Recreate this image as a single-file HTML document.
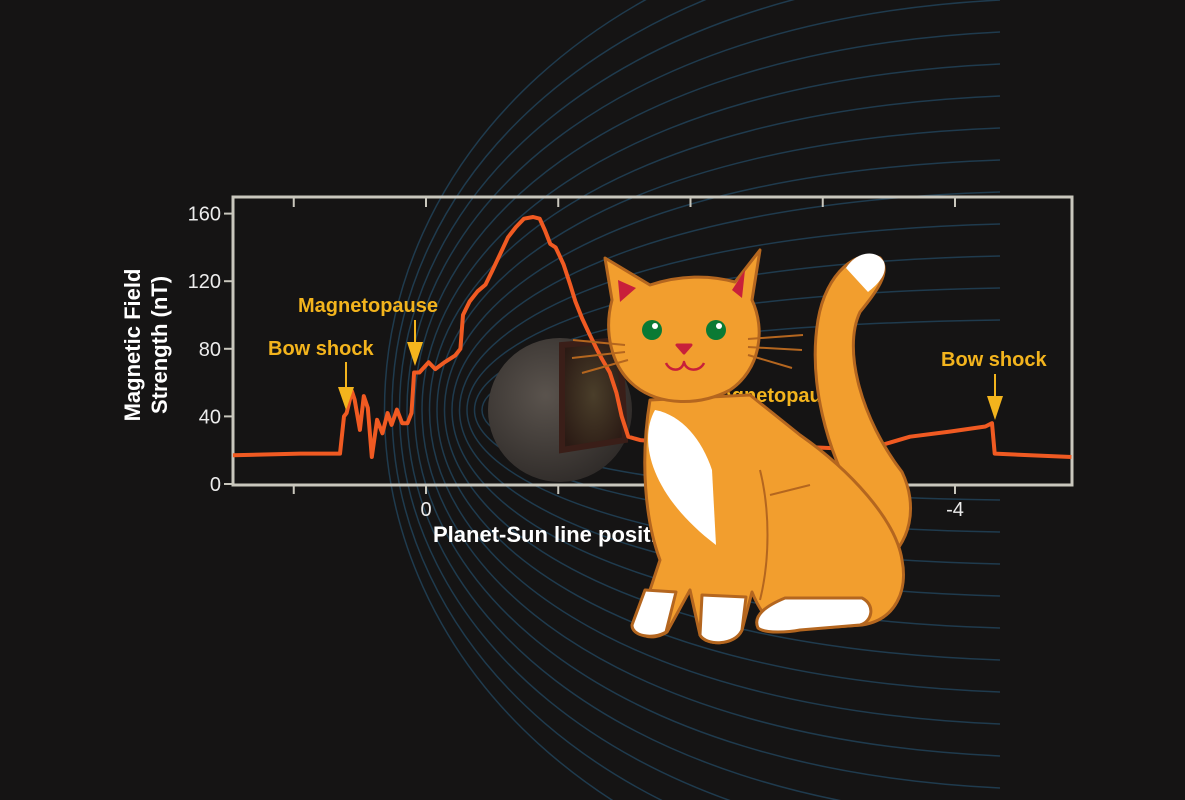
<!DOCTYPE html>
<html><head><meta charset="utf-8">
<style>
html,body{margin:0;padding:0;background:#151414;overflow:hidden;}
svg{display:block;}
text{font-family:"Liberation Sans",sans-serif;}
</style></head>
<body>
<svg id="chart" width="1185" height="800" viewBox="0 0 1185 800">
<defs>
<radialGradient id="pg" cx="0.4" cy="0.4" r="0.7">
<stop offset="0" stop-color="#5a534d"/><stop offset="1" stop-color="#2c2826"/>
</radialGradient>
<radialGradient id="cg" cx="0.5" cy="0.5" r="0.6">
<stop offset="0" stop-color="#4a3e2a"/><stop offset="1" stop-color="#2a1a14"/>
</radialGradient>
<clipPath id="frameclip"><rect width="1185" height="800"/></clipPath>
</defs>
<rect width="1185" height="800" fill="#151414"/>
<g id="field" fill="none" stroke="#1f3b4e" stroke-width="1.5" clip-path="url(#frameclip)"></g>
<g>
<circle cx="560" cy="410" r="72" fill="url(#pg)"/>
<path d="M562 345 L620 340 L625 440 L562 450 Z" fill="url(#cg)" stroke="#3a1e18" stroke-width="6"/>
</g>
<rect x="233" y="197" width="839" height="288" fill="none" stroke="#c9c7bd" stroke-width="3"/>
<g id="axes"></g>
<path id="series" fill="none" stroke="#f05a22" stroke-width="4" stroke-linejoin="round"/>
<g id="ann" font-weight="bold" font-size="20" fill="#f3b41d">
<text x="268" y="355">Bow shock</text>
<text x="298" y="312">Magnetopause</text>
<text x="704" y="402">Magnetopause</text>
<text x="941" y="366">Bow shock</text>
<g stroke="#f3b41d" stroke-width="2">
<line x1="346" y1="362" x2="346" y2="392"/><line x1="415" y1="320" x2="415" y2="352"/><line x1="995" y1="374" x2="995" y2="400"/>
</g>
<polygon points="338,387 354,387 346,410"/><polygon points="407,342 423,342 415,366"/><polygon points="987,396 1003,396 995,420"/>
</g>
<g fill="#ffffff" font-weight="bold" font-size="22">
<text transform="translate(140,345) rotate(-90)" text-anchor="middle">Magnetic Field</text>
<text transform="translate(167,345) rotate(-90)" text-anchor="middle">Strength (nT)</text>
<text x="433" y="542">Planet-Sun line position (Mercury radii)</text>
</g>
<g stroke="#b4661f" stroke-width="3" stroke-linejoin="round">
<path d="M858 505 C826 450 808 380 818 320 C826 272 858 248 880 258 C892 272 876 292 860 312 C842 350 862 420 902 472 C918 505 912 545 880 565 Z" fill="#f29e2e"/>
<path d="M846 268 C856 252 876 248 884 262 C888 274 878 284 868 292 Z" fill="#fff" stroke="none"/>
<path d="M650 400 C640 460 645 520 660 560 L640 620 C632 636 652 642 667 632 L690 590 L700 635 C706 646 735 646 742 630 L752 592 C760 612 772 630 792 630 L862 625 C896 620 908 590 902 560 C896 520 850 470 800 435 L750 395 Z" fill="#f29e2e"/>
<path d="M655 410 C638 440 650 495 716 545 L712 470 C702 440 682 415 655 410 Z" fill="#fff" stroke="none"/>
<path d="M645 590 L632 625 C632 636 652 640 666 632 L676 592 Z" fill="#fff"/>
<path d="M702 595 L700 635 C706 646 735 646 742 630 L746 597 Z" fill="#fff"/>
<path d="M785 598 C768 605 752 615 758 628 C765 634 790 632 800 630 L860 625 C872 622 876 605 862 598 Z" fill="#fff"/>
<path d="M612 300 L605 258 L650 285 C680 275 710 275 735 282 L760 250 L752 300 C766 330 760 370 730 390 C700 406 660 406 635 386 C610 366 604 330 612 300 Z" fill="#f29e2e"/>
<path d="M618 280 L620 302 L636 288 Z M745 270 L732 290 L742 298 Z" fill="#c8203a" stroke="none"/>
<circle cx="652" cy="330" r="10" fill="#0a7a34" stroke="none"/><circle cx="716" cy="330" r="10" fill="#0a7a34" stroke="none"/>
<circle cx="655" cy="326" r="3" fill="#fff" stroke="none"/><circle cx="719" cy="326" r="3" fill="#fff" stroke="none"/>
<path d="M677 345 L691 345 L684 353 Z" fill="#c8203a" stroke="#c8203a"/>
<path d="M666 363 C670 372 682 372 684 362 C686 372 700 372 704 363" fill="none" stroke="#c8203a" stroke-width="2.5"/>
<path d="M625 345 L573 340 M625 352 L572 358 M628 360 L582 373 M748 339 L803 335 M748 347 L802 350 M748 355 L792 368" fill="none" stroke-width="2"/>
<path d="M760 470 C770 510 770 560 760 600 M770 495 C790 490 810 485 810 485" fill="none" stroke-width="2"/>
</g>
<script>
const xTicks=[1,0,-1,-2,-3,-4];
const xTickLabels=["","0","","-2","","-4"];
const yTicks=[0,40,80,120,160];
const posR=[1.46,0.95,0.65,0.62,0.60,0.56,0.54,0.50,0.47,0.44,0.41,0.37,0.33,0.29,0.26,0.22,0.18,0.14,0.11,0.09,0.05,-0.02,-0.07,-0.14,-0.22,-0.26,-0.28,-0.33,-0.39,-0.45,-0.50,-0.56,-0.62,-0.68,-0.74,-0.81,-0.86,-0.90,-0.94,-0.98,-1.01,-1.04,-1.09,-1.13,-1.18,-1.24,-1.29,-1.33,-1.39,-1.44,-1.48,-1.53,-1.62,-1.92,-2.37,-2.83,-3.13,-3.28,-3.40,-3.66,-3.96,-4.23,-4.28,-4.30,-4.57,-4.88];
const fieldNT=[17,18,18,40,42,55,50,32,52,45,16,38,30,42,35,44,36,36,42,66,66,72,68,72,76,80,100,108,114,118,126,136,146,152,157,158,157,150,142,140,135,130,118,108,98,88,80,74,66,54,40,28,26,24,23,22,21,16,22,28,31,34,36,18,17,16];
const NS='http://www.w3.org/2000/svg';
const xs=r=>426-r*132.25;
const ys=v=>484-v*1.69;
const axes=document.getElementById('axes');
function mk(tag,attrs,parent){const e=document.createElementNS(NS,tag);for(const k in attrs)e.setAttribute(k,attrs[k]);parent.appendChild(e);return e;}
xTicks.forEach((t,i)=>{
  const x=xs(t);
  const a=mk('line',{x1:x,y1:198,x2:x,y2:207,stroke:'#c9c7bd','stroke-width':2},axes);
  
  
  const b=mk('line',{x1:x,y1:484,x2:x,y2:494,stroke:'#c9c7bd','stroke-width':2},axes);
  
  
  if(xTickLabels[i]){
    const tx=mk('text',{x:x,y:516,'text-anchor':'middle','font-size':20,fill:'#ececec'},axes);
    tx.textContent=xTickLabels[i];
    
    
  }
});
yTicks.forEach(v=>{
  const y=ys(v);
  const l=mk('line',{x1:224,y1:y,x2:234,y2:y,stroke:'#c9c7bd','stroke-width':2},axes);
  
  
  const tx=mk('text',{x:221,y:y+7,'text-anchor':'end','font-size':20,fill:'#ececec'},axes);
  tx.textContent=v;
  
  
});
let d='';
posR.forEach((r,i)=>{d+=(i?'L':'M')+xs(r).toFixed(1)+' '+ys(fieldNT[i]).toFixed(1)+' ';});
document.getElementById('series').setAttribute('d',d);
const field=document.getElementById('field');
for(let k=0;k<14;k++){
  const apex=482-k*7.5, a=90+k*32;
  const cx=(apex-250)/0.75;
  const p=mk('path',{d:`M1000 ${410-a} C${cx} ${410-a*0.9} ${cx} ${410+a*0.9} 1000 ${410+a}`},field);
  
  
}
</script>
</svg>
</body></html>
